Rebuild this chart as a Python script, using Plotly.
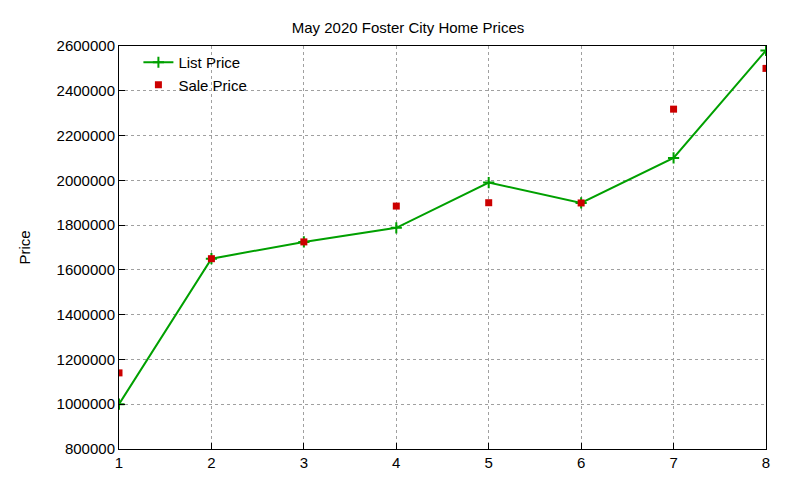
import plotly.graph_objects as go

homes = [1, 2, 3, 4, 5, 6, 7, 8]
list_price = [1000000, 1650000, 1725000, 1788000, 1990000, 1899000, 2100000, 2580000]
sale_price = [1140000, 1650000, 1725000, 1885000, 1900000, 1899000, 2318000, 2500000]

fig = go.Figure()
fig.add_trace(go.Scatter(x=homes, y=list_price, mode='lines+markers', name='List Price',
                         line=dict(color='#00a000', width=2),
                         marker=dict(symbol='cross-thin', size=8, line=dict(color='#00a000', width=2))))
fig.add_trace(go.Scatter(x=homes, y=sale_price, mode='markers', name='Sale Price',
                         marker=dict(symbol='square', size=7, color='#cc0000')))

axis = dict(showgrid=True, gridcolor='#a0a0a0', griddash='dot', gridwidth=1,
            showline=True, linecolor='black', mirror=True, ticks='inside', ticklen=6,
            tickcolor='black', zeroline=False, tickfont=dict(size=15))
fig.update_xaxes(range=[1, 8], dtick=1, **axis)
fig.update_yaxes(range=[800000, 2600000], dtick=200000, tickformat='d',
                 title=dict(text='Price', standoff=22, font=dict(size=15)), **axis)
fig.update_layout(
    width=800, height=480, plot_bgcolor='white', paper_bgcolor='white',
    font=dict(family='Liberation Sans, Arial', size=14, color='black'),
    title=dict(text='May 2020 Foster City Home Prices', x=0.5, xanchor='center',
               y=0.958, yanchor='middle', font=dict(size=15)),
    margin=dict(l=111, r=42, t=38, b=39),
    legend=dict(x=0.03, y=1.0, xanchor='left', yanchor='top', bgcolor='rgba(0,0,0,0)',
                font=dict(size=15), tracegroupgap=0),
)
fig.write_html("out.html")
